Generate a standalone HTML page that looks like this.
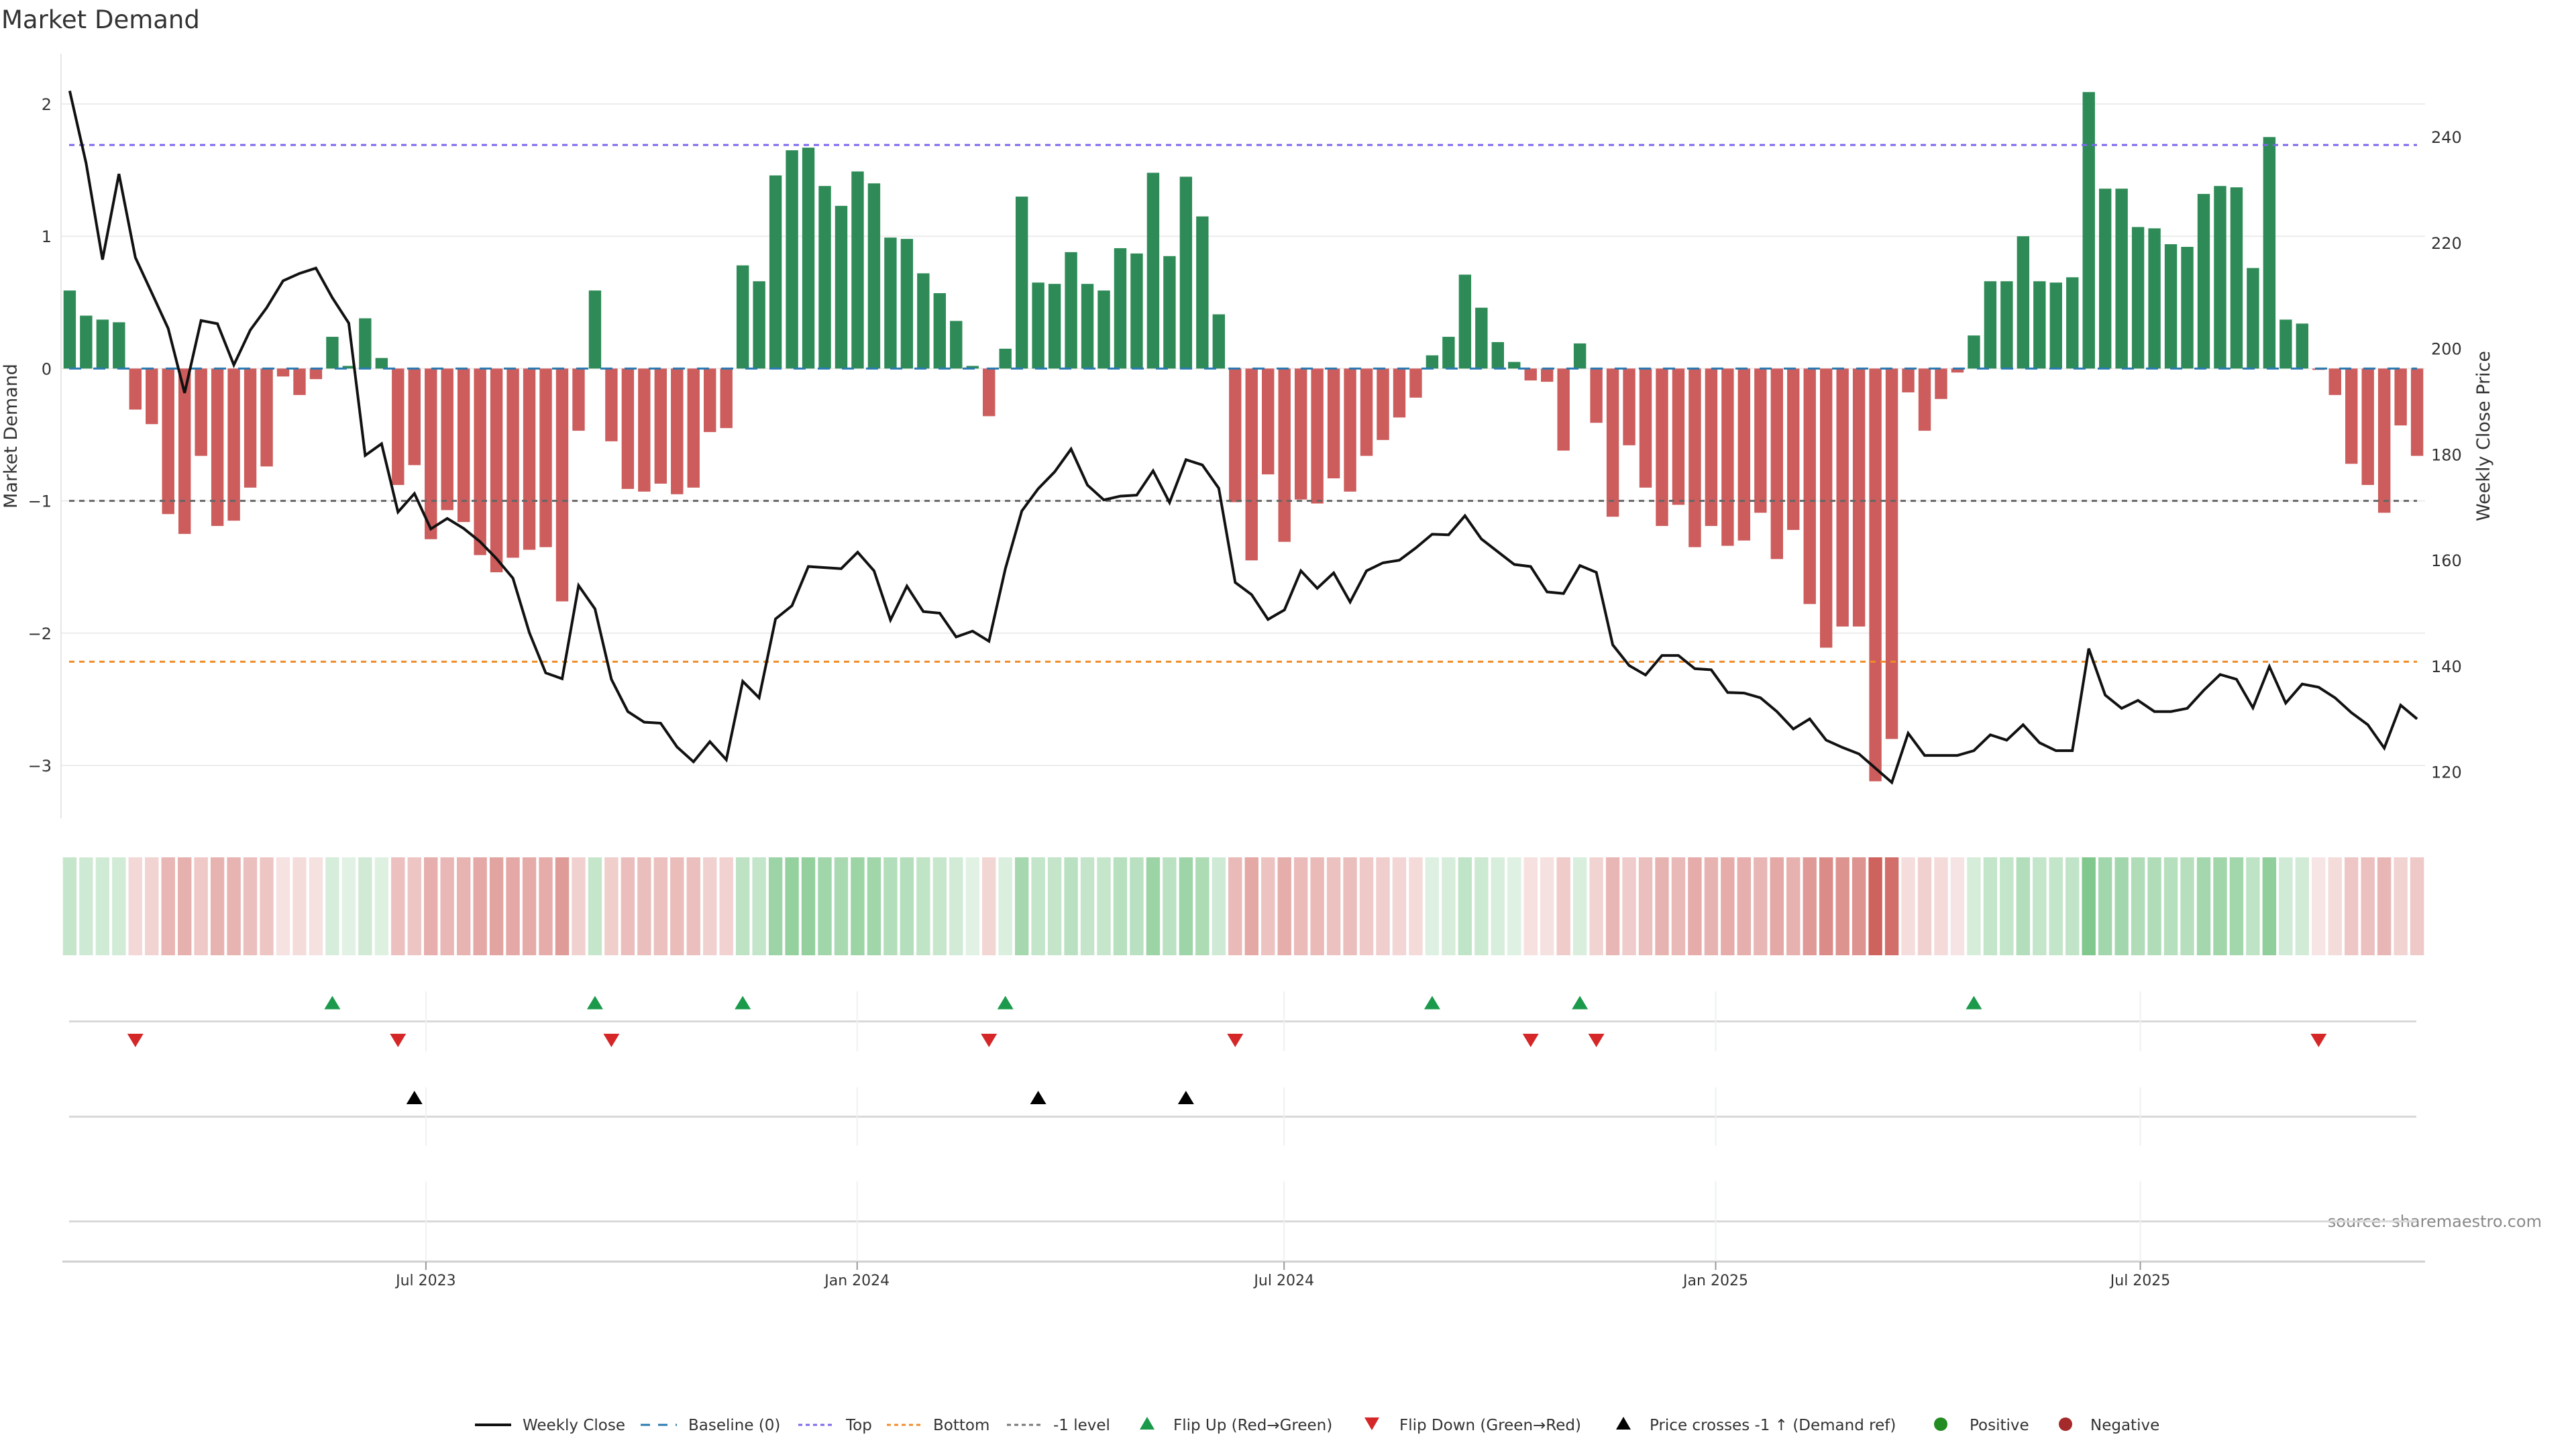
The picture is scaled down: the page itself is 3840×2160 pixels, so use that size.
<!DOCTYPE html>
<html><head><meta charset="utf-8"><title>Market Demand</title>
<style>
html,body{margin:0;padding:0;background:#fff;}
svg{display:block;font-family:"DejaVu Sans","Liberation Sans",sans-serif;}
</style></head>
<body>
<svg id="chart" width="3840" height="2160" viewBox="0 0 3840 2160" xmlns="http://www.w3.org/2000/svg">
  <rect x="0" y="0" width="3840" height="2160" fill="#ffffff"/>
  <text x="2" y="42" font-size="37" fill="#333">Market Demand</text>
  <text x="0" y="0" font-size="27" fill="#333" text-anchor="middle" transform="translate(25,650) rotate(-90)">Market Demand</text>
  <text x="0" y="0" font-size="27" fill="#333" text-anchor="middle" transform="translate(3711,650) rotate(-90)">Weekly Close Price</text>
  <text x="3789" y="1829" font-size="24" fill="#888" text-anchor="end">source: sharemaestro.com</text>
  <g id="grid"></g><g id="bars"></g><g id="refs"></g><g id="price"></g><g id="heat"></g><g id="markers"></g><g id="xaxis"></g><g id="legend"></g>
</svg>
<script>
const demand = [0.59,0.40,0.37,0.35,
-0.31,-0.42,-1.10,-1.25,-0.66,-1.19,-1.15,-0.90,-0.74,-0.06,-0.20,-0.08,
0.24,0.02,0.38,0.08,
-0.88,-0.73,-1.29,-1.07,-1.16,-1.41,-1.54,-1.43,-1.37,-1.35,-1.76,-0.47,
0.59,
-0.55,-0.91,-0.93,-0.87,-0.95,-0.90,-0.48,-0.45,
0.78,0.66,1.46,1.65,1.67,1.38,1.23,1.49,1.40,0.99,0.98,0.72,0.57,0.36,0.02,
-0.36,
0.15,1.30,0.65,0.64,0.88,0.64,0.59,0.91,0.87,1.48,0.85,1.45,1.15,0.41,
-1.01,-1.45,-0.80,-1.31,-0.99,-1.02,-0.83,-0.93,-0.66,-0.54,-0.37,-0.22,
0.10,0.24,0.71,0.46,0.20,0.05,
-0.09,-0.10,-0.62,
0.19,
-0.41,-1.12,-0.58,-0.90,-1.19,-1.03,-1.35,-1.19,-1.34,-1.30,-1.09,-1.44,-1.22,-1.78,-2.11,-1.95,-1.95,-3.12,-2.80,-0.18,-0.47,-0.23,-0.03,
0.25,0.66,0.66,1.00,0.66,0.65,0.69,2.09,1.36,1.36,1.07,1.06,0.94,0.92,1.32,1.38,1.37,0.76,1.75,0.37,0.34,
-0.01,-0.20,-0.72,-0.88,-1.09,-0.43,-0.66];
const prices = [248.7,235.0,216.8,233.0,217.2,210.5,203.8,191.6,205.3,204.7,196.9,203.5,207.7,212.8,214.2,215.2,209.6,204.8,179.8,182.0,169.1,172.6,165.9,167.9,166.0,163.5,160.3,156.6,146.3,138.7,137.6,155.2,150.8,137.5,131.4,129.4,129.2,124.7,121.9,
125.7,122.3,137.1,134.0,148.9,151.4,158.8,158.6,158.4,161.5,158.0,148.7,155.1,150.3,150.0,145.5,146.6,144.7,158.4,169.3,173.5,176.7,181.0,174.2,171.4,172.1,172.3,176.9,170.9,179.0,178.0,173.6,155.8,153.5,148.8,150.6,158.0,
154.7,157.6,152.1,158.0,159.5,160.0,162.3,164.9,164.8,168.4,164.0,161.6,159.2,158.8,154.0,153.7,159.0,157.7,144.0,140.1,138.3,142.0,142.0,139.5,139.3,135.0,134.9,134.0,131.4,128.1,130.0,126.0,124.6,123.4,120.7,118.0,127.3,
123.1,123.1,123.1,124.0,127.0,126.0,128.9,125.5,124.0,124.0,143.3,134.5,132.0,133.5,131.4,131.4,132.0,135.4,138.4,137.5,132.1,139.9,133.0,136.6,136.0,134.0,131.2,128.9,124.5,132.6,130.0];
const flipUpIdx = [16,32,41,57,83,92,116];
const flipDownIdx = [4,20,33,56,71,89,93,137];
const crossIdx = [21,59,68];
const demandTicks = [2,1,0,-1,-2,-3];
const priceTicks = [120,140,160,180,200,220,240];
const xTickLabels = ["Jul 2023","Jan 2024","Jul 2024","Jan 2025","Jul 2025"];
const xTickWeeks = [21.7,47.97,73.98,100.27,126.14];
const levelTop = 1.69, levelBottom = -2.216, levelMinus = -1;

const NS = "http://www.w3.org/2000/svg";
function mk(tag, attrs, parent){ const e=document.createElementNS(NS,tag); for(const k in attrs) e.setAttribute(k,attrs[k]); parent.appendChild(e); return e; }
const xScale = i => 103.9 + 24.47*i;
const yD = d => 549.4 - 197.2*d;
const yP = p => 1150.6 - (p-120)*7.888;
const PL=91, PR=3615, PT=80, PB=1220;

const grid=document.getElementById('grid');
demandTicks.forEach(t=>{
  const l=mk('line',{x1:PL,x2:PR,y1:yD(t),y2:yD(t),stroke:'#ececec','stroke-width':2},grid);
  
  
  const tx=mk('text',{x:PL-14,y:yD(t)+9,'font-size':24,fill:'#333','text-anchor':'end'},grid);
  tx.textContent = t<0 ? '\u2212'+Math.abs(t) : String(t);
  
  
});
priceTicks.forEach(t=>{
  const tx=mk('text',{x:3624,y:yP(t)+9,'font-size':24,fill:'#333'},grid);
  tx.textContent=String(t);
  
  
});
const ax=mk('line',{x1:PL,x2:PL,y1:PT,y2:PB,stroke:'#e6e6e6','stroke-width':2},grid);



const bars=document.getElementById('bars');
demand.forEach((v,i)=>{
  const y0=yD(0), y1=yD(v);
  const r=mk('rect',{x:xScale(i)-9.2,width:18.4,y:Math.min(y0,y1),height:Math.max(1,Math.abs(y1-y0)),fill:v>=0?'#2e8b57':'#cd5c5c'},bars);
  
  
});

const refs=document.getElementById('refs');
function ref(val,color,dash,name){
  const l=mk('line',{x1:103,x2:PR-12,y1:yD(val),y2:yD(val),stroke:color,'stroke-width':3,'stroke-dasharray':dash},refs);
  
  
}
ref(0,'#2a7ab0','18 18','baseline-line');
ref(levelTop,'#7b68ee','8 7','top-level-line');
ref(levelBottom,'#f08c28','8 7','bottom-level-line');
ref(levelMinus,'#666666','8 7','minus-one-level-line');

const pg=document.getElementById('price');
const pts=prices.map((p,i)=>xScale(i).toFixed(1)+','+yP(p).toFixed(1)).join(' ');
const pl=mk('polyline',{points:pts,fill:'none',stroke:'#111','stroke-width':4,'stroke-linejoin':'miter'},pg);



const heat=document.getElementById('heat');
const maxAbs=Math.max(...demand.map(Math.abs));
demand.forEach((v,i)=>{
  const t=0.15+0.75*Math.abs(v)/maxAbs;
  const base=v>=0?[60,170,80]:[200,80,75];
  const c=base.map(b=>Math.round(255*(1-t)+b*t));
  const r=mk('rect',{x:xScale(i)-10.2,width:20.4,y:1278,height:146,fill:'rgb('+c.join(',')+')'},heat);
  
  
});

const mg=document.getElementById('markers');
[1522.6,1664.6,1820.8].forEach(y=>{
  const l=mk('line',{x1:103,x2:3602,y1:y,y2:y,stroke:'#d8d8d8','stroke-width':3},mg);
  
  
});
xTickWeeks.forEach(w=>{
  [[1478,1567],[1621,1708],[1761,1878]].forEach(s=>{
    const l=mk('line',{x1:xScale(w),x2:xScale(w),y1:s[0],y2:s[1],stroke:'#eef0f3','stroke-width':2},mg);
    
    
  });
});
function tri(cx,cy,up,color,name){
  const p = up ? [[cx,cy-10],[cx-12,cy+10],[cx+12,cy+10]] : [[cx-12,cy-10],[cx+12,cy-10],[cx,cy+10]];
  const e=mk('polygon',{points:p.map(q=>q.join(',')).join(' '),fill:color},mg);
  
  
}
flipUpIdx.forEach(i=>tri(xScale(i),1494.5,true,'#1a9a4a','flip-up-marker'));
flipDownIdx.forEach(i=>tri(xScale(i),1551,false,'#d62728','flip-down-marker'));
crossIdx.forEach(i=>tri(xScale(i),1636,true,'#000','price-cross-marker'));

const xg=document.getElementById('xaxis');
const xl=mk('line',{x1:93,x2:PR,y1:1880.6,y2:1880.6,stroke:'#d0d0d0','stroke-width':3},xg);


xTickWeeks.forEach((w,k)=>{
  const t=mk('line',{x1:xScale(w),x2:xScale(w),y1:1881,y2:1893,stroke:'#999','stroke-width':2},xg);
  
  
  const tx=mk('text',{x:xScale(w),y:1916,'font-size':22,fill:'#333','text-anchor':'middle'},xg);
  tx.textContent=xTickLabels[k];
  
  
});

const lg=document.getElementById('legend');
const LY=2124;
function ltext(x,s){
  const t=mk('text',{x:x,y:LY+8,'font-size':23,fill:'#333'},lg);
  t.textContent=s;
  
  
}
function lline(x,color,dash,w,name){
  const l=mk('line',{x1:x,x2:x+54,y1:LY,y2:LY,stroke:color,'stroke-width':w,'stroke-dasharray':dash},lg);
  
  
}
lline(708,'#111','none',4,'legend-weekly-close'); ltext(779,'Weekly Close');
lline(955,'#2a7ab0','14 12',3,'legend-baseline'); ltext(1026,'Baseline (0)');
lline(1190,'#7b68ee','6 5',3,'legend-top'); ltext(1261,'Top');
lline(1322,'#f08c28','6 5',3,'legend-bottom'); ltext(1391,'Bottom');
lline(1501,'#777','6 5',3,'legend-minus-one'); ltext(1570,'-1 level');
function ltri(cx,up,color,name){
  const cy=LY-2;
  const p = up ? [[cx,cy-10],[cx-11,cy+9],[cx+11,cy+9]] : [[cx-11,cy-9],[cx+11,cy-9],[cx,cy+10]];
  const e=mk('polygon',{points:p.map(q=>q.join(',')).join(' '),fill:color},lg);
  
  
}
ltri(1710,true,'#1a9a4a','legend-flip-up-marker'); ltext(1749,'Flip Up (Red\u2192Green)');
ltri(2045,false,'#d62728','legend-flip-down-marker'); ltext(2086,'Flip Down (Green\u2192Red)');
ltri(2420,true,'#000','legend-price-cross-marker'); ltext(2459,'Price crosses -1 \u2191 (Demand ref)');
function lcirc(cx,color,name){
  const c=mk('circle',{cx:cx,cy:LY-1,r:10,fill:color},lg);
  
  
}
lcirc(2893,'#228b22','legend-positive-marker'); ltext(2936,'Positive');
lcirc(3079,'#a52a2a','legend-negative-marker'); ltext(3116,'Negative');
</script>
</body></html>
